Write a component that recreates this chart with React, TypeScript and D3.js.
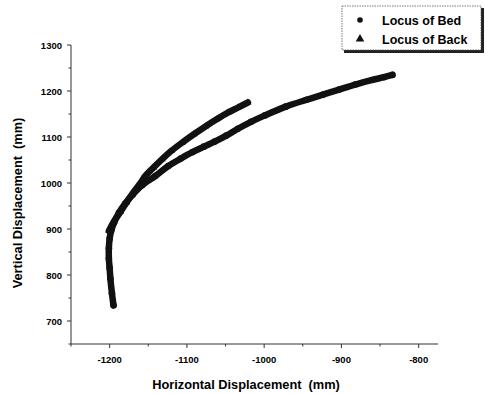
import { useEffect, useRef } from "react"
import * as d3 from "d3"

// Locus of Bed (long curve, circles)
const bedX = [-1195, -1197, -1199, -1200, -1201, -1201, -1200, -1198, -1194, -1188, -1180, -1170, -1158, -1141, -1124, -1108, -1093, -1078, -1064, -1049, -1034, -1017, -999, -972, -945, -924, -903, -882, -860, -845, -834]
const bedY = [734, 760, 792, 815, 836, 858, 879, 896, 915, 935, 955, 975, 995, 1015, 1037, 1053, 1067, 1079, 1090, 1103, 1118, 1133, 1147, 1166, 1181, 1192, 1203, 1214, 1224, 1230, 1235]

// Locus of Back (short curve, triangles)
const backX = [-1201, -1195, -1186, -1178, -1169, -1160, -1154, -1143, -1132, -1120, -1106, -1091, -1076, -1062, -1047, -1034, -1021]
const backY = [896, 915, 937, 958, 980, 1000, 1015, 1034, 1052, 1070, 1088, 1106, 1123, 1138, 1153, 1164, 1175]

const xTicks = [-1200, -1100, -1000, -900, -800]
const yTicks = [700, 800, 900, 1000, 1100, 1200, 1300]
const seriesNames = ["Locus of Bed", "Locus of Back"]

export default function App() {
  const ref = useRef<SVGSVGElement | null>(null)

  useEffect(() => {
    const svg = d3.select(ref.current)
    svg.selectAll("*").remove()

    const width = 486
    const height = 394
    const left = 71
    const right = 438
    const top = 45
    const bottom = 344

    const x = d3.scaleLinear().domain([-1250, -775]).range([left, right])
    const y = d3.scaleLinear().domain([650, 1300]).range([bottom, top])

    svg.attr("width", width).attr("height", height)
    const font = "'Liberation Sans', Arial, sans-serif"

    // axes with major and minor ticks
    const g = svg.append("g").attr("stroke", "#333").attr("stroke-width", 1)
    d3.range(-1250, -775, 50).forEach(v => {
      const major = v % 100 === 0
      g.append("line")
        .attr("x1", x(v)).attr("x2", x(v))
        .attr("y1", bottom).attr("y2", bottom + (major ? 4 : 2.5))
    })
    d3.range(650, 1301, 50).forEach(v => {
      const major = v % 100 === 0
      g.append("line")
        .attr("x1", left).attr("x2", left - (major ? 4 : 2.5))
        .attr("y1", y(v)).attr("y2", y(v))
    })

    g.append("line").attr("x1", left).attr("x2", left).attr("y1", top).attr("y2", bottom)
    g.append("line").attr("x1", left).attr("x2", right).attr("y1", bottom).attr("y2", bottom)

    svg.append("g").selectAll("text")
      .data(xTicks)
      .enter()
      .append("text")
      .attr("x", d => x(d))
      .attr("y", bottom + 19)
      .attr("text-anchor", "middle")
      .attr("font-family", font)
      .attr("font-weight", "bold")
      .attr("font-size", 9.5)
      .text(d => String(d))

    svg.append("g").selectAll("text")
      .data(yTicks)
      .enter()
      .append("text")
      .attr("x", left - 9)
      .attr("y", d => y(d) + 3.5)
      .attr("text-anchor", "end")
      .attr("font-family", font)
      .attr("font-weight", "bold")
      .attr("font-size", 9.5)
      .text(d => String(d))

    svg.append("text")
      .attr("x", 246)
      .attr("y", 389)
      .attr("text-anchor", "middle")
      .attr("font-family", font)
      .attr("font-weight", "bold")
      .attr("font-size", 12.8)
      .attr("xml:space", "preserve")
      .text("Horizontal Displacement  (mm)")

    svg.append("text")
      .attr("transform", "translate(22,203) rotate(-90)")
      .attr("text-anchor", "middle")
      .attr("font-family", font)
      .attr("font-weight", "bold")
      .attr("font-size", 12.8)
      .attr("xml:space", "preserve")
      .text("Vertical Displacement  (mm)")

    const line = d3.line<[number, number]>()
      .x(d => x(d[0]))
      .y(d => y(d[1]))
      .curve(d3.curveCatmullRom)

    const bed: [number, number][] = bedX.map((v, i) => [v, bedY[i]])
    const back: [number, number][] = backX.map((v, i) => [v, backY[i]])

    // dense markers read as a thick band, so trace them with a wide stroke
    ;[bed, back].forEach(s => {
      svg.append("path")
        .attr("d", line(s))
        .attr("fill", "none")
        .attr("stroke", "#111")
        .attr("stroke-width", 6.5)
        .attr("stroke-linecap", "round")
        .attr("stroke-linejoin", "round")
    })

    svg.append("g").selectAll("circle")
      .data(bed)
      .enter()
      .append("circle")
      .attr("cx", d => x(d[0]))
      .attr("cy", d => y(d[1]))
      .attr("r", 3.3)
      .attr("fill", "#111")

    const tri = d3.symbol().type(d3.symbolTriangle).size(22)
    svg.append("g").selectAll("path")
      .data(back)
      .enter()
      .append("path")
      .attr("d", tri)
      .attr("transform", d => `translate(${x(d[0])},${y(d[1])})`)
      .attr("fill", "#111")

    // legend
    const lg = svg.append("g")
    lg.append("rect")
      .attr("x", 344).attr("y", 8).attr("width", 140).attr("height", 45)
      .attr("fill", "#222")
    lg.append("rect")
      .attr("x", 342).attr("y", 6).attr("width", 139).attr("height", 44)
      .attr("fill", "#fff")
      .attr("stroke", "#555")
      .attr("stroke-width", 0.8)
      .attr("stroke-dasharray", "1.5,1")

    lg.append("circle").attr("cx", 360).attr("cy", 20).attr("r", 2.8).attr("fill", "#111")
    lg.append("path")
      .attr("d", d3.symbol().type(d3.symbolTriangle).size(32)())
      .attr("transform", "translate(360,39)")
      .attr("fill", "#111")

    lg.selectAll("text")
      .data(seriesNames)
      .enter()
      .append("text")
      .attr("x", 382)
      .attr("y", (d, i) => 24.5 + i * 19)
      .attr("font-family", font)
      .attr("font-weight", "bold")
      .attr("font-size", 12.5)
      .text(d => d)
  }, [])

  return <svg ref={ref} style={{ position: "absolute", left: 0, top: 0 }} />
}
